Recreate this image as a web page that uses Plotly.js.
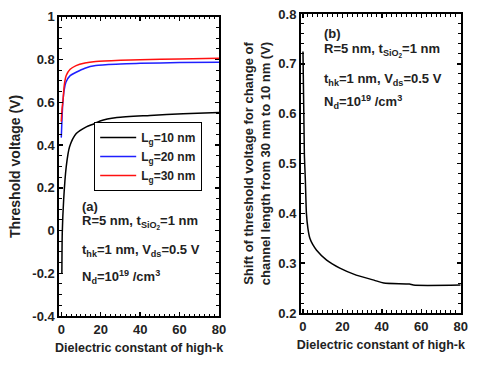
<!DOCTYPE html>
<html>
<head>
<meta charset="utf-8">
<script src="https://cdn.plot.ly/plotly-3.0.1.min.js"></script>
<style>html,body{margin:0;padding:0;background:#fff;}#chart{width:483px;height:365px;}</style>
</head>
<body>
<div id="chart"></div>
<script>
// Panel (a): threshold voltage vs dielectric constant
const k10 = [0.3, 0.5, 1.2, 2.5, 4.2, 7.6, 12.7, 16.7, 19.7, 28.2, 45, 61.8, 80];
const vt10 = [-0.2, -0.01, 0.143, 0.298, 0.392, 0.454, 0.485, 0.50, 0.513, 0.529, 0.539, 0.547, 0.553];
const k20 = [0, 0.4, 0.8, 1.5, 2.4, 4.5, 7.5, 12, 17.5, 30, 40, 60, 80];
const vt20 = [0.435, 0.531, 0.60, 0.66, 0.695, 0.725, 0.741, 0.76, 0.772, 0.779, 0.783, 0.786, 0.788];
const k30 = [0, 0.4, 0.9, 1.5, 2.5, 4.5, 7.5, 12, 17.5, 30, 40, 60, 80];
const vt30 = [0.51, 0.57, 0.612, 0.68, 0.726, 0.755, 0.772, 0.784, 0.791, 0.797, 0.80, 0.803, 0.806];
// Panel (b): shift of threshold voltage
const kShift = [0, 0.7, 1.2, 1.75, 2.5, 3.5, 5, 6.9, 12, 18.7, 27, 36, 41, 54, 56, 80];
const dVt = [0.725, 0.52, 0.467, 0.40, 0.37, 0.35, 0.337, 0.326, 0.306, 0.29, 0.276, 0.266, 0.26, 0.258, 0.256, 0.256];

const legendNames = ["L<sub>g</sub>=10 nm", "L<sub>g</sub>=20 nm", "L<sub>g</sub>=30 nm"];
const xTitle = "Dielectric constant of high-k";
const yTitleA = "Threshold voltage (V)";
const yTitleB = "Shift of threshold voltage for change of<br>channel length from 30 nm to 10 nm (V)";
const noteLines = ["R=5 nm, t<sub>SiO<sub>2</sub></sub>=1 nm", "t<sub>hk</sub>=1 nm, V<sub>ds</sub>=0.5 V", "N<sub>d</sub>=10<sup>19</sup> /cm<sup>3</sup>"];

const FONT = "Liberation Sans, Arial, sans-serif";
const tc = "#222";

const ln = (c) => ({color: c, width: 1.5, shape: "spline", smoothing: 0.7});
const traces = [
  {x: k10, y: vt10, mode: "lines", name: legendNames[0], line: ln("#000"), xaxis: "x", yaxis: "y"},
  {x: k20, y: vt20, mode: "lines", name: legendNames[1], line: ln("#1f1fff"), xaxis: "x", yaxis: "y"},
  {x: k30, y: vt30, mode: "lines", name: legendNames[2], line: ln("#ff1010"), xaxis: "x", yaxis: "y"},
  {x: kShift, y: dVt, mode: "lines", showlegend: false, line: ln("#000"), xaxis: "x2", yaxis: "y2"}
];

function ax(extra) {
  return Object.assign({
    showline: true, linecolor: "#000", linewidth: 2, mirror: "allticks",
    ticks: "inside", ticklen: 4, tickwidth: 1.5, tickcolor: "#000",
    showgrid: false, zeroline: false,
    tickfont: {family: FONT, size: 13, color: tc, weight: "bold"}
  }, extra);
}

function notes(xp, yps, label) {
  const out = [{xref: "paper", yref: "paper", x: xp, y: yps[0], xanchor: "left", yanchor: "middle",
    text: "<b>" + label + "</b>", showarrow: false, font: {family: FONT, size: 13, color: tc}}];
  noteLines.forEach((t, i) => out.push({xref: "paper", yref: "paper", x: xp, y: yps[i + 1], xanchor: "left", yanchor: "middle",
    text: "<b>" + t + "</b>", showarrow: false, font: {family: FONT, size: 13, color: tc}}));
  return out;
}

const layout = {
  width: 483, height: 365,
  margin: {l: 0, r: 0, t: 0, b: 0},
  paper_bgcolor: "#fff", plot_bgcolor: "#fff",
  showlegend: true,
  legend: {x: 0.195, y: 0.6658, xanchor: "left", yanchor: "top", bordercolor: "#000", borderwidth: 1,
    bgcolor: "#fff", font: {family: FONT, size: 12, color: tc, weight: "bold"}, tracegroupgap: 0, itemwidth: 36},
  xaxis: ax({domain: [0.1228, 0.4534], range: [-1, 80], tickvals: [0, 20, 40, 60, 80], anchor: "y",
    minor: {ticks: "inside", ticklen: 2.5, tickwidth: 1, dtick: 2.5, tick0: 0, tickcolor: "#000"},
    title: {text: "<b>" + xTitle + "</b>", font: {family: FONT, size: 12.5, color: tc}, standoff: 8}}),
  yaxis: ax({domain: [0.1342, 0.9537], range: [-0.4, 1], tickvals: [-0.4, -0.2, 0, 0.2, 0.4, 0.6, 0.8, 1], ticktext: ["-0.4", "-0.2", "0", "0.2", "0.4", "0.6", "0.8", "1"], anchor: "x",
    minor: {ticks: "inside", ticklen: 2.5, tickwidth: 1, dtick: 0.05, tick0: 0, tickcolor: "#000"},
    title: {text: "<b>" + yTitleA + "</b>", font: {family: FONT, size: 14, color: tc}, standoff: 8}}),
  xaxis2: ax({domain: [0.6232, 0.9538], range: [-1, 80], tickvals: [0, 20, 40, 60, 80], anchor: "y2",
    minor: {ticks: "inside", ticklen: 2.5, tickwidth: 1, dtick: 2.5, tick0: 0, tickcolor: "#000"},
    title: {text: "<b>" + xTitle + "</b>", font: {family: FONT, size: 12.5, color: tc}, standoff: 8}}),
  yaxis2: ax({domain: [0.1425, 0.9616], range: [0.2, 0.8], tickvals: [0.2, 0.3, 0.4, 0.5, 0.6, 0.7, 0.8], ticktext: ["0.2", "0.3", "0.4", "0.5", "0.6", "0.7", "0.8"], anchor: "x2",
    minor: {ticks: "inside", ticklen: 2.5, tickwidth: 1, dtick: 0.02, tick0: 0, tickcolor: "#000"},
    title: {text: "<b>" + yTitleB + "</b>", font: {family: FONT, size: 13, color: tc}, standoff: 5}}),
  annotations: [].concat(
    notes(80 / 483, [1 - 206.7 / 365, 1 - 222 / 365, 1 - 250.7 / 365, 1 - 276.7 / 365], "(a)"),
    notes(321.5 / 483, [1 - 33.3 / 365, 1 - 49.5 / 365, 1 - 79 / 365, 1 - 101.7 / 365], "(b)")
  )
};

Plotly.newPlot("chart", traces, layout, {displayModeBar: false, staticPlot: true});
</script>
</body>
</html>
